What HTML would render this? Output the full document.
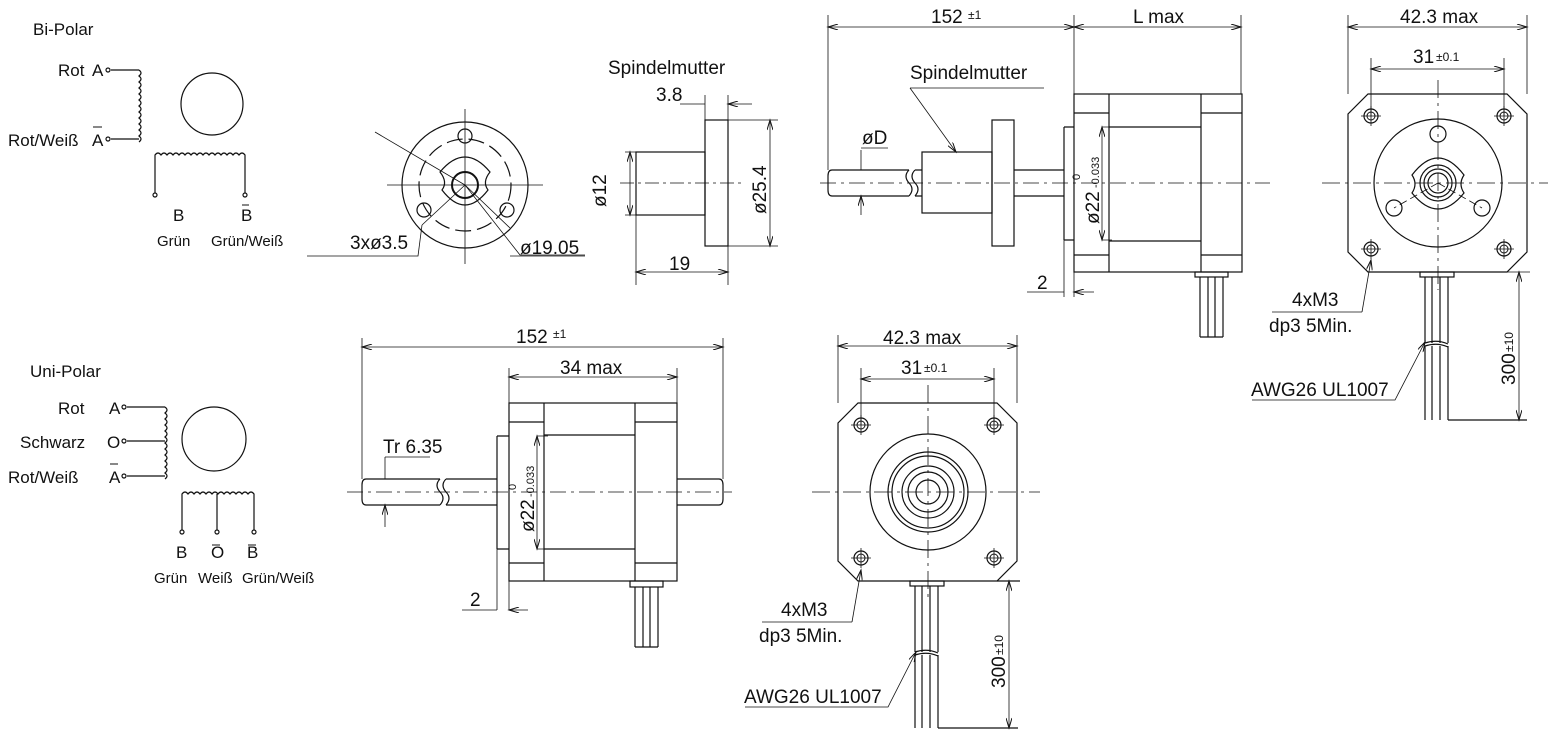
<!DOCTYPE html>
<html><head><meta charset="utf-8"><style>
html,body{margin:0;padding:0;background:#fff}
svg{display:block}
text{font-family:"Liberation Sans",sans-serif;fill:#111}
.d{font-size:19px}
</style></head><body>
<svg width="1560" height="740" viewBox="0 0 1560 740" xmlns="http://www.w3.org/2000/svg">
<defs>
<marker id="ar" viewBox="0 0 10 6" refX="10" refY="3" markerWidth="14" markerHeight="6" orient="auto-start-reverse" markerUnits="userSpaceOnUse"><path d="M0,0 L10,3 L0,6" fill="none" stroke="#111" stroke-width="1"/></marker>
<g id="hole"><circle r="7" fill="none" stroke="#111" stroke-width="1.2"/><circle r="4" fill="none" stroke="#111" stroke-width="1"/><path d="M-10,0H10M0,-10V10" stroke="#111" stroke-width="0.8"/></g>
</defs>
<g fill="none" stroke="#111" stroke-width="1.2">

<!-- ===== Bi-Polar schematic ===== -->
<circle cx="212" cy="104" r="31" />
<path d="M111,70H139 M111,139H139"/>
<circle cx="108" cy="70" r="2"/><circle cx="108" cy="139" r="2"/>
<path d="M139,70 q4,3 0,6 q4,3 0,6 q4,3 0,6 q4,3 0,6 q4,3 0,6 q4,3 0,6 q4,3 0,6 q4,3 0,6 q4,3 0,6 q4,3 0,6 q4,3 0,6 q4,3 0,6 H139" />
<path d="M155,193V155 q3,-4 6,0 q3,-4 6,0 q3,-4 6,0 q3,-4 6,0 q3,-4 6,0 q3,-4 6,0 q3,-4 6,0 q3,-4 6,0 q3,-4 6,0 q3,-4 6,0 q3,-4 6,0 q3,-4 6,0 q3,-4 6,0 q3,-4 6,0 q3,-4 6,0 V193"/>
<circle cx="155" cy="195" r="2"/><circle cx="245" cy="195" r="2"/>
<path d="M93,127H102 M242,205H249" stroke-width="1"/>

<!-- ===== Uni-Polar schematic ===== -->
<circle cx="214" cy="439" r="32"/>
<path d="M127,407H165 M127,441H165 M127,476H165"/>
<circle cx="124" cy="407" r="2"/><circle cx="124" cy="441" r="2"/><circle cx="124" cy="476" r="2"/>
<path d="M165,407 q4,3 0,6 q4,3 0,6 q4,3 0,6 q4,3 0,6 q4,3 0,6 q4,3 0,6 q4,3 0,6 q4,3 0,6 q4,3 0,6 q4,3 0,6 q4,3 0,6 q4,3 0,6"/>
<path d="M182,530V494 q3,-4 6,0 q3,-4 6,0 q3,-4 6,0 q3,-4 6,0 q3,-4 6,0 q3,-4 6,0 q3,-4 6,0 q3,-4 6,0 q3,-4 6,0 q3,-4 6,0 q3,-4 6,0 q3,-4 6,0 V530 M217,494V530"/>
<circle cx="182" cy="532" r="2"/><circle cx="217" cy="532" r="2"/><circle cx="254" cy="532" r="2"/>
<path d="M110,464H118 M212,545H220 M248,545H256" stroke-width="1"/>

<!-- ===== Nut front view ===== -->
<circle cx="465" cy="185" r="63"/>
<circle cx="465" cy="185" r="46" stroke-dasharray="16,6"/>
<path d="M440,172 q25,-30 50,0 q-8,10 -2,18 q-23,30 -46,0 q6,-8 -2,-18z"/>
<circle cx="465" cy="185" r="13" stroke-width="2"/>
<circle cx="465" cy="136" r="7"/><circle cx="424" cy="210" r="7"/><circle cx="507" cy="210" r="7"/>
<path d="M387,185H543 M465,109V264" stroke-width="0.8"/>
<path d="M465,185L375,132 M465,185L422,225 M465,185L510,228 M422,225L418,256H307 M465,185L520,255H585" stroke-width="0.8"/>
<path d="M510,256H585" stroke-width="0.8"/>

<!-- ===== Nut side view ===== -->
<rect x="636" y="152" width="69" height="63"/>
<rect x="705" y="120" width="23" height="126"/>
<path d="M620,183H745" stroke-dasharray="14,4,3,4" stroke-width="0.8"/>
<path d="M705,95V120 M728,95V120 M636,215V285 M728,246V285 M625,152H636 M625,215H636 M728,120H778 M728,246H778" stroke-width="0.8"/>
<path d="M680,104H705 M752,104H728" marker-end="url(#ar)" stroke-width="0.8"/>
<path d="M636,272H728" marker-start="url(#ar)" marker-end="url(#ar)" stroke-width="0.8"/>
<path d="M630,152V215" marker-start="url(#ar)" marker-end="url(#ar)" stroke-width="0.8"/>
<path d="M770,120V246" marker-start="url(#ar)" marker-end="url(#ar)" stroke-width="0.8"/>

<!-- ===== Top side view ===== -->
<rect x="1074" y="94" width="168" height="178"/>
<path d="M1109,94V272 M1201,94V272 M1074,113H1109 M1074,255H1109 M1201,113H1242 M1201,255H1242 M1109,127H1201 M1109,241H1201"/>
<path d="M1064,127H1074 M1064,240H1074 M1064,127V240"/>
<path d="M828,176 q0,-6 4,-6 H909 M828,190 q0,6 4,6 H909 M909,170 q-6,6 0,13 q6,6 0,13 M915,170 q-6,6 0,13 q6,6 0,13 M915,170H922 M915,196H922 M828,176V190"/>
<rect x="922" y="152" width="70" height="61"/>
<rect x="992" y="120" width="22" height="126"/>
<path d="M1014,170H1064 M1014,196H1064"/>
<rect x="1195" y="272" width="33" height="5"/>
<path d="M1200,277V337 M1208,277V337 M1215,277V337 M1223,277V337 M1200,337H1223"/>
<path d="M820,183H1270" stroke-dasharray="16,5,3,5" stroke-width="0.8"/>
<path d="M828,15V170 M1074,15V94 M1241,15V94 M1064,240V297 M1074,272V297" stroke-width="0.8"/>
<path d="M828,27H1074" marker-start="url(#ar)" marker-end="url(#ar)" stroke-width="0.8"/>
<path d="M1074,27H1241" marker-start="url(#ar)" marker-end="url(#ar)" stroke-width="0.8"/>
<path d="M1027,292H1064 M1094,292H1074" marker-end="url(#ar)" stroke-width="0.8"/>
<path d="M1102,127V240" marker-start="url(#ar)" marker-end="url(#ar)" stroke-width="0.8"/>
<path d="M1102,127H1112 M1102,240H1112" stroke-width="0.8"/>
<path d="M861,148H888" stroke-width="0.8"/>
<path d="M861,150V170 M861,215V196" marker-end="url(#ar)" stroke-width="0.8"/>
<path d="M1044,88H910" stroke-width="0.8"/>
<path d="M910,88L956,152" marker-end="url(#ar)" stroke-width="0.8"/>

<!-- ===== Top front view ===== -->
<path d="M1368,94H1507L1527,114V252L1507,272H1368L1348,252V114Z"/>
<circle cx="1438" cy="183" r="64"/>
<path d="M1412,175 q26,-34 52,0 q-6,9 0,18 q-26,32 -52,0 q6,-9 0,-18z"/>
<circle cx="1438" cy="183" r="18"/><circle cx="1438" cy="183" r="14"/><circle cx="1438" cy="183" r="10"/>
<circle cx="1438" cy="134" r="8"/><circle cx="1394" cy="208" r="8"/><circle cx="1482" cy="208" r="8"/>
<path d="M1438,183L1394,208 M1438,183L1482,208" stroke-dasharray="8,4" stroke-width="0.8"/>
<use href="#hole" x="1371" y="116"/><use href="#hole" x="1504" y="116"/><use href="#hole" x="1371" y="249"/><use href="#hole" x="1504" y="249"/>
<path d="M1322,183H1548" stroke-dasharray="18,5,3,5" stroke-width="0.8"/>
<path d="M1438,80V290" stroke-dasharray="18,5,3,5" stroke-width="0.8"/>
<rect x="1420" y="272" width="34" height="5"/>
<path d="M1425,277V343 M1432,277V343 M1440,277V343 M1448,277V343 M1425,346V420 M1432,346V420 M1440,346V420 M1448,346V420 M1425,343 q12,-4 23,1 M1425,346 q12,-4 23,1 M1448,420H1527"/>
<path d="M1348,15V94 M1527,15V94 M1371,58V116 M1504,58V116" stroke-width="0.8"/>
<path d="M1348,27H1527" marker-start="url(#ar)" marker-end="url(#ar)" stroke-width="0.8"/>
<path d="M1371,69H1504" marker-start="url(#ar)" marker-end="url(#ar)" stroke-width="0.8"/>
<path d="M1519,272V420" marker-start="url(#ar)" marker-end="url(#ar)" stroke-width="0.8"/>
<path d="M1507,272H1530" stroke-width="0.8"/>
<path d="M1272,312H1362" stroke-width="0.8"/>
<path d="M1362,312L1371,260" marker-end="url(#ar)" stroke-width="0.8"/>
<path d="M1252,400H1395L1425,342" marker-end="url(#ar)" stroke-width="0.8"/>

<!-- ===== Bottom side view ===== -->
<rect x="509" y="403" width="168" height="178"/>
<path d="M544,403V581 M635,403V581 M509,422H544 M509,563H544 M635,422H677 M635,563H677 M544,435H635 M544,549H635"/>
<path d="M497,436H509 M497,549H509 M497,436V549"/>
<path d="M362,485 q0,-6 4,-6 H440 M362,499 q0,6 4,6 H440 M440,479 q-6,6 0,13 q6,6 0,13 M446,479 q-6,6 0,13 q6,6 0,13 M446,479H497 M446,505H497 M362,485V499"/>
<path d="M677,479H719 q4,0 4,6 V499 q0,6 -4,6 H677"/>
<rect x="630" y="581" width="33" height="6"/>
<path d="M635,587V647 M643,587V647 M650,587V647 M658,587V647 M635,647H658"/>
<path d="M347,492H732" stroke-dasharray="16,5,3,5" stroke-width="0.8"/>
<path d="M362,338V479 M723,338V479 M509,368V403 M677,368V403 M497,549V610 M509,581V610" stroke-width="0.8"/>
<path d="M362,347H723" marker-start="url(#ar)" marker-end="url(#ar)" stroke-width="0.8"/>
<path d="M509,377H677" marker-start="url(#ar)" marker-end="url(#ar)" stroke-width="0.8"/>
<path d="M462,610H497 M528,610H509" marker-end="url(#ar)" stroke-width="0.8"/>
<path d="M537,436V549" marker-start="url(#ar)" marker-end="url(#ar)" stroke-width="0.8"/>
<path d="M537,436H548 M537,549H548" stroke-width="0.8"/>
<path d="M385,457V479 M385,527V505" marker-end="url(#ar)" stroke-width="0.8"/>
<path d="M385,457H430" stroke-width="0.8"/>

<!-- ===== Bottom front view ===== -->
<path d="M858,403H997L1017,423V561L997,581H858L838,561V423Z"/>
<circle cx="928" cy="492" r="58"/>
<circle cx="928" cy="492" r="40"/><circle cx="928" cy="492" r="36"/>
<circle cx="928" cy="492" r="26"/><circle cx="928" cy="492" r="20"/><circle cx="928" cy="492" r="12"/>
<use href="#hole" x="861" y="425"/><use href="#hole" x="994" y="425"/><use href="#hole" x="861" y="558"/><use href="#hole" x="994" y="558"/>
<path d="M812,492H1040" stroke-dasharray="18,5,3,5" stroke-width="0.8"/>
<path d="M928,385V600" stroke-dasharray="18,5,3,5" stroke-width="0.8"/>
<rect x="910" y="581" width="34" height="5"/>
<path d="M915,586V652 M922,586V652 M930,586V652 M938,586V652 M915,655V728 M922,655V728 M930,655V728 M938,655V728 M915,652 q12,-4 23,1 M915,655 q12,-4 23,1 M938,728H1018 M997,581H1020"/>
<path d="M838,335V403 M1017,335V403 M861,368V425 M994,368V425" stroke-width="0.8"/>
<path d="M838,346H1017" marker-start="url(#ar)" marker-end="url(#ar)" stroke-width="0.8"/>
<path d="M861,379H994" marker-start="url(#ar)" marker-end="url(#ar)" stroke-width="0.8"/>
<path d="M1009,581V728" marker-start="url(#ar)" marker-end="url(#ar)" stroke-width="0.8"/>
<path d="M762,622H852" stroke-width="0.8"/>
<path d="M852,622L861,570" marker-end="url(#ar)" stroke-width="0.8"/>
<path d="M745,707H888L916,652" marker-end="url(#ar)" stroke-width="0.8"/>
</g>

<g font-size="17">
<text x="33" y="35">Bi-Polar</text>
<text x="58" y="76">Rot</text><text x="92" y="76">A</text>
<text x="8" y="146">Rot/Weiß</text><text x="92" y="146">A</text>
<text x="173" y="221">B</text><text x="241" y="221">B</text>
<text x="157" y="246" font-size="15">Grün</text><text x="211" y="246" font-size="15">Grün/Weiß</text>

<text x="30" y="377">Uni-Polar</text>
<text x="58" y="414">Rot</text><text x="109" y="414">A</text>
<text x="20" y="448">Schwarz</text><text x="107" y="448">O</text>
<text x="8" y="483">Rot/Weiß</text><text x="109" y="483">A</text>
<text x="176" y="558">B</text><text x="211" y="558">O</text><text x="247" y="558">B</text>
<text x="154" y="583" font-size="15">Grün</text><text x="198" y="583" font-size="15">Weiß</text><text x="242" y="583" font-size="15">Grün/Weiß</text>

<g class="d">
<text x="350" y="249">3xø3.5</text>
<text x="520" y="254">ø19.05</text>

<text x="608" y="74">Spindelmutter</text>
<text x="656" y="101">3.8</text>
<text x="669" y="270">19</text>
<text transform="translate(606,207) rotate(-90)">ø12</text>
<text transform="translate(766,214) rotate(-90)">ø25.4</text>

<text x="931" y="23">152</text><text x="968" y="19" font-size="12">±1</text>
<text x="1133" y="23">L max</text>
<text x="910" y="79">Spindelmutter</text>
<text x="862" y="144">øD</text>
<text x="1037" y="289">2</text>
<text transform="translate(1099,224) rotate(-90)">ø22</text>
<text transform="translate(1080,180) rotate(-90)" font-size="11">0</text>
<text transform="translate(1099,188) rotate(-90)" font-size="11">-0.033</text>

<text x="1400" y="23">42.3 max</text>
<text x="1413" y="63">31</text><text x="1436" y="61" font-size="12">±0.1</text>
<text x="1292" y="306">4xM3</text>
<text x="1269" y="332">dp3 5Min.</text>
<text x="1251" y="396">AWG26 UL1007</text>
<text transform="translate(1515,385) rotate(-90)">300</text>
<text transform="translate(1513,352) rotate(-90)" font-size="12">±10</text>

<text x="516" y="343">152</text><text x="553" y="338" font-size="12">±1</text>
<text x="560" y="374">34 max</text>
<text x="383" y="453">Tr 6.35</text>
<text x="470" y="606">2</text>
<text transform="translate(534,532) rotate(-90)">ø22</text>
<text transform="translate(516,490) rotate(-90)" font-size="11">0</text>
<text transform="translate(534,497) rotate(-90)" font-size="11">-0.033</text>

<text x="883" y="344">42.3 max</text>
<text x="901" y="374">31</text><text x="924" y="372" font-size="12">±0.1</text>
<text x="781" y="616">4xM3</text>
<text x="759" y="642">dp3 5Min.</text>
<text x="744" y="703">AWG26 UL1007</text>
<text transform="translate(1005,688) rotate(-90)">300</text>
<text transform="translate(1003,655) rotate(-90)" font-size="12">±10</text>
</g>
</g>
</svg>
</body></html>
